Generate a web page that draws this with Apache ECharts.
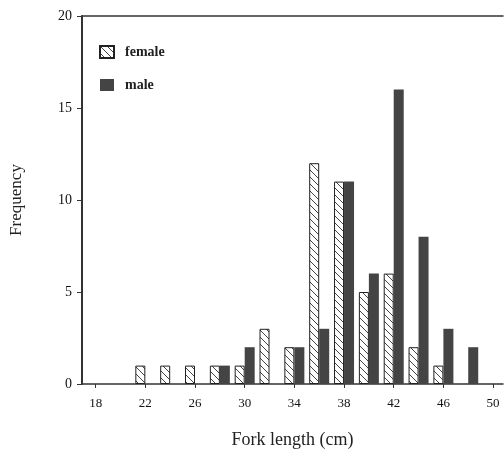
<!DOCTYPE html>
<html><head><meta charset="utf-8">
<script src="https://cdn.jsdelivr.net/npm/echarts@6/dist/echarts.min.js"></script>
<style>html,body{margin:0;padding:0;background:#fff}#c{width:504px;height:457px}</style>
</head><body><div id="c"></div>
<script>
const lengths = [22,24,26,28,30,32,34,36,38,40,42,44,46,48];
const female = [1,1,1,1,1,3,2,12,11,5,6,2,1,0];
const male = [0,0,0,1,2,0,2,3,11,6,16,8,3,2];
const xTicks = [18,22,26,30,34,38,42,46,50];
const yTicks = [0,5,10,15,20];

function hatch(){
  const n = 7;
  const c = document.createElement('canvas');
  c.width = n; c.height = n;
  const g = c.getContext('2d');
  g.fillStyle = '#fff'; g.fillRect(0,0,n,n);
  g.strokeStyle = '#444'; g.lineWidth = 1;
  g.beginPath();
  g.moveTo(-1,-1); g.lineTo(n+1,n+1);
  g.moveTo(-1,n-1); g.lineTo(1,n+1);
  g.moveTo(n-1,-1); g.lineTo(n+1,1);
  g.stroke();
  return c;
}
const pat = {image: hatch(), repeat: 'repeat'};
const font = '"Liberation Serif", "DejaVu Serif", serif';
const toData = arr => lengths.map((x,i) => [x, arr[i] === 0 ? '-' : arr[i]]);

const chart = echarts.init(document.getElementById('c'));
chart.setOption({
  animation: false,
  textStyle: {fontFamily: font, color: '#111'},
  grid: {left: 78, right: 1, top: 16, bottom: 73},
  legend: {
    left: 94, top: 40, orient: 'vertical', itemGap: 19,
    itemWidth: 14, itemHeight: 12, icon: 'rect',
    textStyle: {fontFamily: font, fontSize: 14, fontWeight: 'bold', color: '#222', padding: [0,0,0,6]},
    data: ['female', 'male']
  },
  xAxis: [{
    type: 'value', min: 16.9, max: 50.8,
    name: 'Fork length (cm)', nameLocation: 'middle', nameGap: 47,
    nameTextStyle: {fontFamily: font, fontSize: 18, color: '#222'},
    axisLine: {lineStyle: {color: '#333', width: 1.5}},
    axisTick: {show: true, customValues: xTicks, length: 4, lineStyle: {color: '#333'}},
    axisLabel: {customValues: xTicks, margin: 13, fontSize: 13, color: '#111', fontFamily: font},
    splitLine: {show: false}
  },{
    type: 'value', position: 'top', min: 16.9, max: 50.8,
    axisLine: {show: true, lineStyle: {color: '#333', width: 1.5}},
    axisTick: {show: false}, axisLabel: {show: false}, splitLine: {show: false}
  }],
  yAxis: {
    type: 'value', min: 0, max: 20, interval: 5,
    name: 'Frequency', nameLocation: 'middle', nameGap: 57, nameRotate: 90,
    nameTextStyle: {fontFamily: font, fontSize: 17, color: '#222'},
    axisLine: {show: true, lineStyle: {color: '#333', width: 2}},
    axisTick: {show: true, length: 5, lineStyle: {color: '#333'}},
    axisLabel: {margin: 10, fontSize: 14, color: '#111', fontFamily: font, customValues: yTicks},
    splitLine: {show: false}
  },
  series: [{
    name: 'female', type: 'bar', barWidth: 10, barGap: '0%',
    data: toData(female),
    itemStyle: {color: pat, borderColor: '#222', borderWidth: 1}
  },{
    name: 'male', type: 'bar', barWidth: 10, barGap: '0%',
    data: toData(male),
    itemStyle: {color: '#444'}
  }]
});
</script></body></html>
